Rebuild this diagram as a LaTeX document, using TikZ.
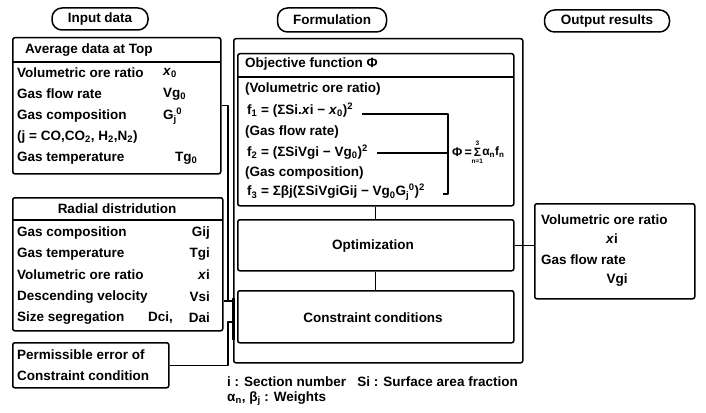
\documentclass[tikz,border=0pt]{standalone}
\usepackage{fontspec}
\setmainfont{Liberation Sans}
% subscript followed by superscript, set side by side
\newcommand\supsb[2]{\textsubscript{#1}\kern-0.5pt\textsuperscript{#2}}
\tikzset{
  box/.style={draw, line width=1.5pt, rounded corners=2pt, anchor=north west, inner sep=0pt},
  pill/.style={draw, line width=1.5pt, rounded corners=10pt, inner sep=0pt},
  txt/.style={inner sep=0pt, anchor=west},
  val/.style={inner sep=0pt, anchor=east},
  ctr/.style={inner sep=0pt},
  lim/.style={inner sep=0pt, font=\fontsize{6.5}{7}\selectfont\bfseries},
  link/.style={line width=1.4pt},
  rule/.style={line width=1.3pt},
}
\begin{document}
\begin{tikzpicture}[x=1pt, y=-1pt, font=\fontsize{13.5}{16}\selectfont\bfseries, line join=round]
\useasboundingbox (0,0) rectangle (706,412);
\fill[white] (0,0) rectangle (706,412);

% column titles
\node[pill, minimum width=96pt, minimum height=22pt] (tin) at (100,19) {Input data};
\node[pill, minimum width=109pt, minimum height=24pt] (tform) at (332,20) {Formulation};
\node[pill, minimum width=125pt, minimum height=22pt] (tout) at (607,21) {Output results};

% ---------- input: average data at top ----------
\node[box, minimum width=208pt, minimum height=136pt] (avg) at (12,37) {};
\draw[rule] (12,62) -- (220,62);
\node[txt] (avgh) at (25,50) {Average data at Top};
\node[txt] (a1) at (17,73) {Volumetric ore ratio};
\node[txt] (a1v) at (163,73) {\textit{x}\textsubscript{0}};
\node[txt] (a2) at (17,94) {Gas flow rate};
\node[txt] (a2v) at (163,94) {Vg\textsubscript{0}};
\node[txt] (a3) at (17,116) {Gas composition};
\node[txt] (a3v) at (163,116) {G\supsb{j}{0}};
\node[txt] (a4) at (17,137) {(j = CO,CO\textsubscript{2}, H\textsubscript{2},N\textsubscript{2})};
\node[txt] (a5) at (17,158) {Gas temperature};
\node[txt] (a5v) at (175,158) {Tg\textsubscript{0}};

% ---------- input: radial distribution ----------
\node[box, minimum width=210pt, minimum height=133pt] (rad) at (12,197) {};
\draw[rule] (12,220) -- (222,220);
\node[ctr] (radh) at (117,209) {Radial distridution};
\node[txt] (r1) at (17,233) {Gas composition};
\node[val] (r1v) at (210,233) {Gij};
\node[txt] (r2) at (17,254) {Gas temperature};
\node[val] (r2v) at (210,254) {Tgi};
\node[txt] (r3) at (17,275) {Volumetric ore ratio};
\node[val] (r3v) at (210,275) {\textit{x}i};
\node[txt] (r4) at (17,297) {Descending velocity};
\node[val] (r4v) at (210,297) {Vsi};
\node[txt] (r5) at (17,318) {Size segregation};
\node[txt] (r5a) at (148,318) {Dci,};
\node[val] (r5v) at (210,318) {Dai};

% ---------- input: permissible error ----------
\node[box, minimum width=156pt, minimum height=45pt] (perm) at (12,342) {};
\node[txt] (p1) at (17,355) {Permissible error of};
\node[txt] (p2) at (17,376) {Constraint condition};

% ---------- formulation ----------
\node[box, minimum width=289pt, minimum height=324pt] (form) at (233,38) {};
\node[box, minimum width=276pt, minimum height=152pt] (obj) at (237,53) {};
\draw[rule] (237,77) -- (513,77);
\node[txt] (objh) at (245,64) {Objective function Φ};
\node[txt] (o1) at (245,89) {(Volumetric ore ratio)};
\node[txt] (f1) at (247,110) {f\textsubscript{1} = (ΣSi.\textit{x}i − \textit{x}\textsubscript{0})\textsuperscript{2}};
\node[txt] (o2) at (245,132) {(Gas flow rate)};
\node[txt] (f2) at (247,152) {f\textsubscript{2} = (ΣSiVgi − Vg\textsubscript{0})\textsuperscript{2}};
\node[txt] (o3) at (245,173) {(Gas composition)};
\node[txt] (f3) at (247,192) {f\textsubscript{3} = Σβj(ΣSiVgiGij − Vg\textsubscript{0}G\supsb{j}{0})\textsuperscript{2}};

% bracket collecting f1..f3 into the objective
\coordinate (bt) at (448,114);
\coordinate (bm) at (448,153);
\coordinate (bb) at (448,194);
\draw[link] ([xshift=9pt]f1.east |- bt) -- (bt) -- (bb) -- ++(-5,0);
\draw[link] ([xshift=9pt]f2.east |- bm) -- (bm);

% weighted sum of the three terms
\node[txt, font=\fontsize{12.5}{14}\selectfont\bfseries] (phi) at (452,152) {Φ\,=};
\node[txt, font=\fontsize{12}{14}\selectfont\bfseries] (sig) at ([xshift=1.5pt]phi.east) {Σ};
\node[lim, anchor=south] (sigt) at ([yshift=2pt]sig.north) {3};
\node[lim, anchor=north] (sigb) at ([yshift=-2pt]sig.south) {n=1};
\node[txt, font=\fontsize{12}{14}\selectfont\bfseries] (sigr) at ([xshift=1pt]sig.east) {α\textsubscript{n}f\textsubscript{n}};

\node[box, minimum width=276pt, minimum height=51pt] (opt) at (237,219) {};
\node[ctr] (optt) at (373,246) {Optimization};
\node[box, minimum width=276pt, minimum height=52pt] (con) at (237,290) {};
\node[ctr] (cont) at (373,318) {Constraint conditions};

\draw[link] (obj.south) -- (opt.north);
\draw[link] (opt.south) -- (con.north);

% ---------- output ----------
\node[box, minimum width=160pt, minimum height=95pt] (out) at (534,203) {};
\node[txt] (u1) at (541,220) {Volumetric ore ratio};
\node[ctr] (u2) at (612,239) {\textit{x}i};
\node[txt] (u3) at (541,260) {Gas flow rate};
\node[ctr] (u4) at (617,280) {Vgi};
\draw[link] (opt.east) -- (opt.east -| out.west);

% ---------- inputs into the formulation ----------
\coordinate (ja) at (228,301);
\coordinate (jb) at (228,322);
\draw[link] (avg.east) -| (ja) -- (ja -| form.west);
\draw[link] (rad.east |- ja) -- (ja);
\draw[link] (perm.east) -| (jb) -- (jb -| form.west);
\draw[line width=3pt] (form.west |- ja) ++(0,-3) -- (form.west |- jb) -- ++(0,18);

% ---------- notes ----------
\node[txt] (n1) at (227,382) {i : Section number \ \ Si : Surface area fraction};
\node[txt] (n2) at (227,399) {α\textsubscript{n}, β\textsubscript{j} : Weights};
\end{tikzpicture}
\end{document}
